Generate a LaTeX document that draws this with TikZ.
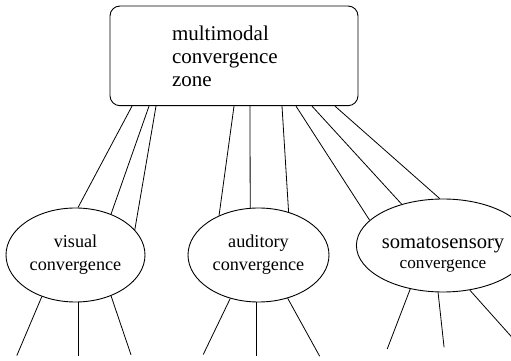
\documentclass[tikz,border=0pt]{standalone}
\usepackage{fontspec}
\setmainfont{Liberation Serif}
\usetikzlibrary{shapes.geometric}

\tikzset{
  zonebox/.style={draw, rounded corners=10pt, line width=0.9pt,
    minimum width=248pt, minimum height=99.7pt, inner xsep=62pt,
    text width=124pt, align=left,
    font=\fontsize{21}{23}\selectfont},
  areabox/.style={draw, ellipse, line width=0.9pt, inner sep=0pt,
    minimum width=139pt, minimum height=94pt, align=center,
    font=\fontsize{18.2}{23}\selectfont},
  link/.style={line width=0.8pt}
}

\begin{document}
\begin{tikzpicture}[x=1pt, y=1pt]
  \useasboundingbox (0,0) rectangle (511,361);

  % convergence zone and the three sensory areas
  \node[zonebox] (mcz) at (234,305.15) {multimodal\\convergence\\zone};
  \node[areabox] (vis) at (75.5,106) {visual\\convergence};
  \node[areabox, minimum width=141pt] (aud) at (258.5,106) {auditory\\convergence};
  \node[areabox, minimum width=138pt, minimum height=93pt,
        font=\fontsize{17.2}{20}\selectfont] (som) at (443,115.5)
        {\rule{0pt}{30pt}{\fontsize{20.6}{20}\selectfont somatosensory}\\convergence};

  % links from the zone down to each area
  \draw[link] ([xshift=-102pt]mcz.south) -- (vis.87);
  \draw[link] ([xshift=-85pt]mcz.south) -- (vis.49);
  \draw[link] ([xshift=-78pt]mcz.south) -- (vis.23.5);
  \draw[link] (mcz.south) -- (aud.135);
  \draw[link] ([xshift=16pt]mcz.south) -- (aud.100);
  \draw[link] ([xshift=48pt]mcz.south) -- (aud.55.5);
  \draw[link] ([xshift=62pt]mcz.south) -- (som.161);
  \draw[link] ([xshift=78pt]mcz.south) -- (som.135);
  \draw[link] ([xshift=101pt]mcz.south) -- (som.94);

  % inputs fanning out below each area
  \draw[link] (vis.231.4) -- ++(-25,-59);
  \draw[link] (vis.273) -- ++(0,-54);
  \draw[link] (vis.311.8) -- ++(20,-59);
  \draw[link] (aud.237.6) -- ++(-27,-56);
  \draw[link] (aud.268) -- ++(0,-54);
  \draw[link] (aud.304.5) -- ++(32,-58);
  \draw[link] (som.233.9) -- ++(-23,-60);
  \draw[link] (som.264) -- ++(6,-55);
  \draw[link] (som.301.2) -- ++(42,-47);
\end{tikzpicture}
\end{document}
